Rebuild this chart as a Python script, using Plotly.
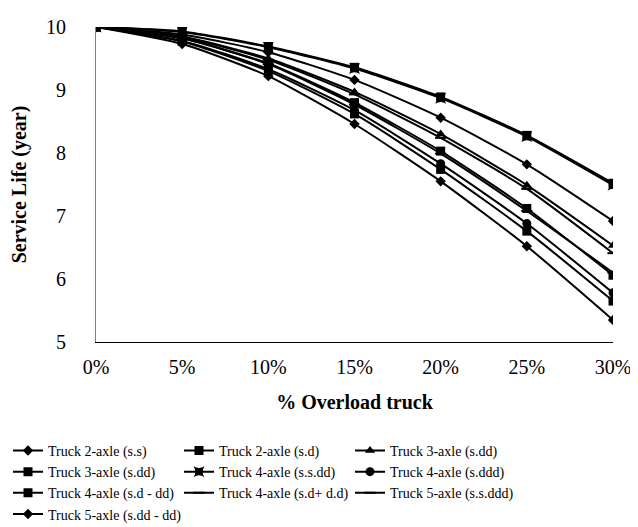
import plotly.graph_objects as go

overload = ["0%", "5%", "10%", "15%", "20%", "25%", "30%"]

names = [
    "Truck 2-axle (s.s)",
    "Truck 2-axle (s.d)",
    "Truck 3-axle (s.dd)",
    "Truck 3-axle (s.dd)",
    "Truck 4-axle (s.s.dd)",
    "Truck 4-axle (s.ddd)",
    "Truck 4-axle (s.d - dd)",
    "Truck 4-axle (s.d+ d.d)",
    "Truck 5-axle (s.s.ddd)",
    "Truck 5-axle (s.dd - dd)",
]

truck2_ss = [10, 9.73, 9.22, 8.46, 7.55, 6.52, 5.35]
truck2_sd = [10, 9.77, 9.30, 8.62, 7.74, 6.76, 5.65]
truck3_sdd_a = [10, 9.85, 9.50, 8.97, 8.30, 7.49, 6.53]
truck3_sdd_b = [10, 9.93, 9.69, 9.36, 8.89, 8.28, 7.52]
truck4_ssdd = [10, 9.92, 9.68, 9.34, 8.87, 8.26, 7.49]
truck4_sddd = [10, 9.78, 9.33, 8.68, 7.83, 6.88, 5.78]
truck4_sd_dd = [10, 9.82, 9.42, 8.80, 8.03, 7.12, 6.06]
truck4_sd_dd2 = [10, 9.84, 9.48, 8.93, 8.24, 7.43, 6.41]
truck5_ssddd = [10, 9.82, 9.41, 8.77, 7.99, 7.08, 6.10]
truck5_sdd_dd = [10, 9.88, 9.60, 9.16, 8.56, 7.82, 6.92]

series = [truck2_ss, truck2_sd, truck3_sdd_a, truck3_sdd_b, truck4_ssdd,
          truck4_sddd, truck4_sd_dd, truck4_sd_dd2, truck5_ssddd, truck5_sdd_dd]
symbols = ["diamond", "square", "triangle-up", "square", "star-square",
           "circle", "square", "line-ew", "line-ew", "diamond"]
sizes = [8, 9, 9, 9, 10, 9, 9, 8, 8, 8]

font_family = "Liberation Serif, serif"

fig = go.Figure()
for name, ys, sym, sz in zip(names, series, symbols, sizes):
    fig.add_trace(go.Scatter(
        x=overload, y=ys, name=name, mode="lines+markers",
        line=dict(color="black", width=2, shape="spline", smoothing=0.6),
        marker=dict(symbol=sym, size=sz, color="black",
                    line=dict(color="black", width=2 if sym == "line-ew" else 0)),
    ))

fig.update_layout(
    width=638, height=527,
    paper_bgcolor="white", plot_bgcolor="white",
    margin=dict(l=88, r=33, t=19, b=193, autoexpand=False),
    font=dict(family=font_family, color="black", size=20),
    showlegend=True,
    legend=dict(
        orientation="h", xref="container", yref="container",
        x=0.0, xanchor="left", y=0.19, yanchor="top",
        font=dict(family=font_family, size=14, color="black"),
        entrywidth=126, entrywidthmode="pixels",
        itemwidth=30, tracegroupgap=0,
    ),
    xaxis=dict(
        type="category", range=[0, 6], showgrid=False, automargin=True,
        showline=True, linecolor="black", linewidth=1,
        ticks="", tickfont=dict(size=20), ticklabelstandoff=7,
        title=dict(text="<b>% Overload truck</b>", font=dict(size=20), standoff=17),
    ),
    yaxis=dict(
        range=[5, 10], dtick=1, showgrid=False, automargin=False,
        showline=True, linecolor="#808080", linewidth=1,
        ticks="", tickfont=dict(size=20), ticklabelstandoff=25,
        title=dict(text="<b>Service Life (year)</b>", font=dict(size=20)),
    ),
)

fig.write_html("out.html")
